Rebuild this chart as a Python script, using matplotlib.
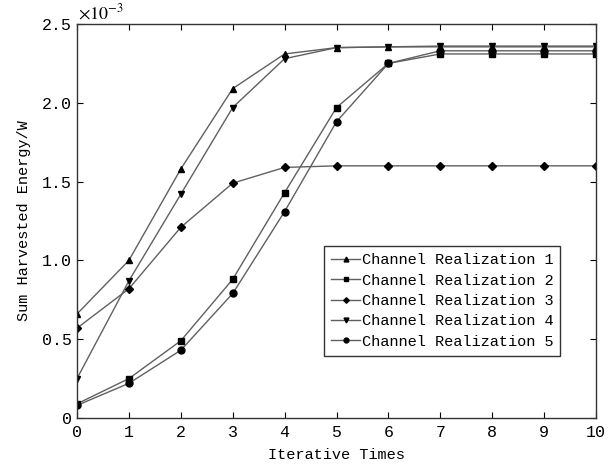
import numpy as np
import matplotlib
matplotlib.use("Agg")
import matplotlib.pyplot as plt

plt.rcParams['font.family'] = ['Liberation Mono', 'DejaVu Sans Mono']
plt.rcParams['mathtext.fontset'] = 'stix'

iters = list(range(11))
# values in units of 1e-3 W
ch1 = [0.66, 1.00, 1.58, 2.09, 2.31, 2.35, 2.355, 2.355, 2.355, 2.355, 2.355]
ch2 = [0.09, 0.25, 0.49, 0.88, 1.43, 1.97, 2.25, 2.31, 2.31, 2.31, 2.31]
ch3 = [0.57, 0.82, 1.21, 1.49, 1.59, 1.60, 1.60, 1.60, 1.60, 1.60, 1.60]
ch4 = [0.25, 0.87, 1.42, 1.97, 2.28, 2.35, 2.355, 2.36, 2.36, 2.36, 2.36]
ch5 = [0.08, 0.22, 0.43, 0.79, 1.31, 1.88, 2.25, 2.33, 2.33, 2.33, 2.33]
labels = ['Channel Realization %d' % k for k in range(1, 6)]
markers = ['^', 's', 'D', 'v', 'o']
yticks = [0, 0.5, 1.0, 1.5, 2.0, 2.5]
ytick_labels = ['0', '0.5', '1.0', '1.5', '2.0', '2.5']

fig = plt.figure(figsize=(6.13, 4.66), dpi=100)
ax = fig.add_axes([0.1256, 0.103, 0.8467, 0.8455])

for ys, m, lab in zip([ch1, ch2, ch3, ch4, ch5], markers, labels):
    ms = 4 if m == 'D' else 5
    ax.plot(iters, ys, color='#606060', lw=1.0, marker=m, ms=ms,
            mfc='black', mec='black', label=lab)

ax.set_xlim(0, 10)
ax.set_ylim(0, 2.5)
ax.set_xticks(iters)
ax.set_yticks(yticks)
ax.set_yticklabels(ytick_labels)
ax.tick_params(direction='in', top=True, right=True, labelsize=12, length=4)
ax.tick_params(axis='x', pad=5)
for s in ax.spines.values():
    s.set_linewidth(1.0)
    s.set_color('#333333')

ax.set_xlabel('Iterative Times', fontsize=11, labelpad=6)
ax.set_ylabel('Sum Harvested Energy/W', fontsize=11, labelpad=8)
ax.annotate(r'$\times 10^{-3}$', xy=(0, 1), xycoords='axes fraction',
            xytext=(1, 1), textcoords='offset points', fontsize=13,
            ha='left', va='bottom')

leg = ax.legend(loc='center right', bbox_to_anchor=(0.931, 0.297), fontsize=11,
                frameon=True, fancybox=False, edgecolor='black',
                handlelength=1.9, handletextpad=0.1, borderpad=0.45,
                labelspacing=0.42, markerscale=0.7, borderaxespad=0)
leg.get_frame().set_linewidth(1.0)

fig.savefig('out.png', dpi=100)
